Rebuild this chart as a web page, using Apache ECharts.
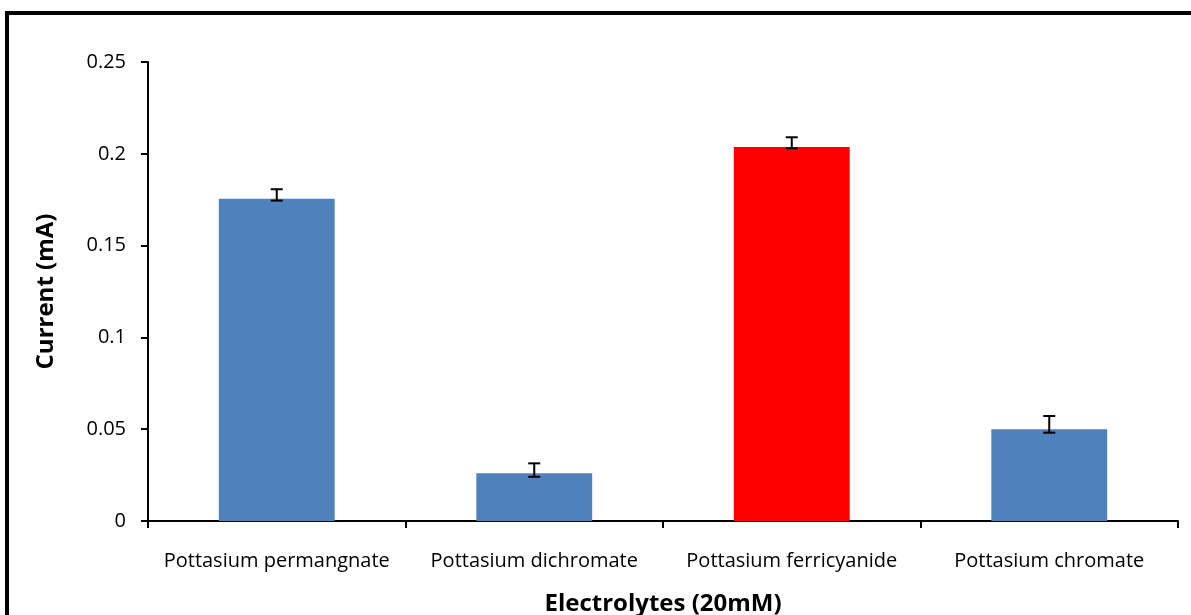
<!DOCTYPE html>
<html>
<head>
<meta charset="utf-8">
<script src="https://cdn.jsdelivr.net/npm/echarts@6/dist/echarts.min.js"></script>
<style>
html,body{margin:0;padding:0;background:#fff;}
#chart{width:1191px;height:615px;}
</style>
</head>
<body>
<div id="chart"></div>
<script>
const categories = ['Pottasium permangnate', 'Pottasium dichromate', 'Pottasium ferricyanide', 'Pottasium chromate'];
const values = [0.1755, 0.026, 0.2037, 0.050];
const errLow = [0.1745, 0.0241, 0.2030, 0.0481];
const errHigh = [0.1807, 0.0314, 0.2090, 0.0572];
const barColors = ['#4f81bd', '#4f81bd', '#ff0000', '#4f81bd'];
const yTicks = [0, 0.05, 0.1, 0.15, 0.2, 0.25];

const chart = echarts.init(document.getElementById('chart'));
const font = "'Open Sans', 'Noto Sans', sans-serif";
chart.setOption({
  animation: false,
  textStyle: {fontFamily: font},
  graphic: [{
    type: 'rect', shape: {x: 7, y: 13, width: 1300, height: 800},
    style: {fill: 'none', stroke: '#000', lineWidth: 4}, silent: true, z: 0
  }],
  grid: {left: 148, right: 13, top: 62, bottom: 94, containLabel: false, outerBoundsMode: 'none'},
  xAxis: {
    type: 'category', data: categories,
    name: 'Electrolytes (20mM)', nameLocation: 'middle', nameGap: 71,
    nameTextStyle: {fontSize: 24, fontWeight: 'bold', color: '#000', fontFamily: font},
    axisLine: {lineStyle: {color: '#000', width: 2}},
    axisTick: {show: true, length: 7, lineStyle: {color: '#000', width: 2}},
    axisLabel: {color: '#000', fontSize: 20, margin: 30, interval: 0, hideOverlap: false, fontFamily: font}
  },
  yAxis: {
    type: 'value', min: 0, max: 0.25, interval: 0.05,
    name: 'Current (mA)', nameLocation: 'middle', nameGap: 90,
    nameTextStyle: {fontSize: 24, fontWeight: 'bold', color: '#000', fontFamily: font},
    splitLine: {show: false},
    axisLine: {show: true, lineStyle: {color: '#000', width: 2}},
    axisTick: {show: true, length: 7, lineStyle: {color: '#000', width: 2}},
    axisLabel: {color: '#000', fontSize: 20, margin: 22, fontFamily: font,
      formatter: v => String(parseFloat(v.toFixed(2)))}
  },
  series: [{
    type: 'bar', barWidth: '45%',
    data: values.map((v, i) => ({value: v, itemStyle: {color: barColors[i]}})),
    z: 2
  }, {
    type: 'custom',
    data: categories.map((c, i) => [i, errLow[i], errHigh[i]]),
    renderItem: function (params, api) {
      const x = api.coord([api.value(0), 0])[0];
      const lo = api.coord([api.value(0), api.value(1)])[1];
      const hi = api.coord([api.value(0), api.value(2)])[1];
      const hw = 6;
      const st = {stroke: '#000', lineWidth: 2};
      return {type: 'group', children: [
        {type: 'line', shape: {x1: x, y1: lo, x2: x, y2: hi}, style: st},
        {type: 'line', shape: {x1: x - hw, y1: lo, x2: x + hw, y2: lo}, style: st},
        {type: 'line', shape: {x1: x - hw, y1: hi, x2: x + hw, y2: hi}, style: st}
      ]};
    },
    z: 5
  }]
});
</script>
</body>
</html>
